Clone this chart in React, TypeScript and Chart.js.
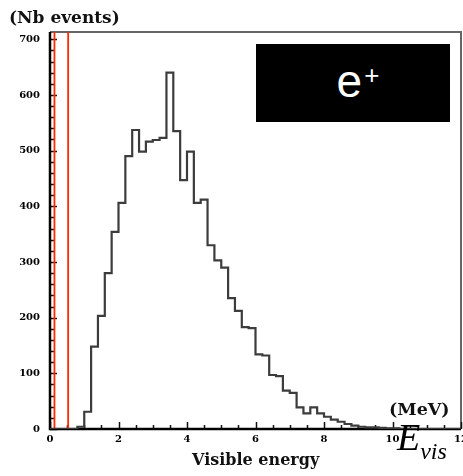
import React, { useEffect, useRef } from "react";
import { Chart, registerables } from "chart.js";

Chart.register(...registerables);

// Bin left edges (MeV), bin width 0.2
const binEdges = [
  0.0, 0.2, 0.4, 0.6, 0.8, 1.0, 1.2, 1.4, 1.6, 1.8,
  2.0, 2.2, 2.4, 2.6, 2.8, 3.0, 3.2, 3.4, 3.6, 3.8,
  4.0, 4.2, 4.4, 4.6, 4.8, 5.0, 5.2, 5.4, 5.6, 5.8,
  6.0, 6.2, 6.4, 6.6, 6.8, 7.0, 7.2, 7.4, 7.6, 7.8,
  8.0, 8.2, 8.4, 8.6, 8.8, 9.0, 9.2, 9.4, 9.6, 9.8,
  10.0, 10.2, 10.4, 10.6, 10.8, 11.0, 11.2, 11.4, 11.6, 11.8,
];
const lastEdge = 12;

// Nb events per bin
const eventCounts = [
  0, 0, 0, 0, 4, 31, 148, 203, 280, 354,
  406, 490, 537, 498, 516, 519, 523, 640, 535, 447,
  498, 406, 412, 330, 303, 290, 235, 212, 183, 181,
  134, 132, 97, 95, 69, 65, 39, 28, 39, 28,
  22, 17, 13, 9, 6, 4, 3, 3, 2, 1,
  1, 0, 0, 0, 0, 0, 0, 0, 0, 0,
];

const yTickValues = [0, 100, 200, 300, 400, 500, 600, 700];
const xTickValues = [0, 2, 4, 6, 8, 10, 12];
const cutLines = [0.13, 0.53];
const xRange = [0, 12];
const yRange = [0, 713];

const frameTicksPlugin = {
  id: "frameTicks",
  beforeDatasetsDraw(chart: any) {
    const { ctx, chartArea } = chart;
    const { left, right, top, bottom } = chartArea;
    const xs = chart.scales.x;
    const ys = chart.scales.y;
    ctx.save();
    // frame top/right
    ctx.strokeStyle = "#666";
    ctx.lineWidth = 2;
    ctx.beginPath();
    ctx.moveTo(left, top);
    ctx.lineTo(right, top);
    ctx.lineTo(right, bottom);
    ctx.stroke();
    // ticks
    ctx.strokeStyle = "#111";
    ctx.lineWidth = 1.5;
    ctx.beginPath();
    for (let v = 0; v <= yRange[1]; v += 20) {
      const y = Math.round(ys.getPixelForValue(v)) + 0.5;
      const len = v % 100 === 0 ? 7 : 4;
      ctx.moveTo(left, y);
      ctx.lineTo(left + len, y);
    }
    for (let v = 0; v <= xRange[1] + 1e-6; v += 0.5) {
      const x = Math.round(xs.getPixelForValue(v)) + 0.5;
      const len = Math.abs(v % 2) < 1e-6 ? 7 : 4;
      ctx.moveTo(x, bottom);
      ctx.lineTo(x, bottom - len);
    }
    ctx.stroke();
    // axes left/bottom
    ctx.strokeStyle = "#000";
    ctx.lineWidth = 2.5;
    ctx.beginPath();
    ctx.moveTo(left, top);
    ctx.lineTo(left, bottom);
    ctx.lineTo(right, bottom);
    ctx.stroke();
    ctx.restore();
  },
};

const tickFont = { family: "'DejaVu Serif', serif", size: 10, weight: "bold" as const };

export default function App() {
  const canvasRef = useRef<HTMLCanvasElement | null>(null);

  useEffect(() => {
    if (!canvasRef.current) return;
    const histPoints = binEdges.map((e, i) => ({ x: e, y: eventCounts[i] }));
    histPoints.push({ x: lastEdge, y: 0 });

    const cutDatasets = cutLines.map((c) => ({
      label: "cut " + c,
      data: [
        { x: c, y: yRange[0] },
        { x: c, y: yRange[1] },
      ],
      borderColor: "#ff2a00",
      borderWidth: 1.8,
      pointRadius: 0,
      fill: false,
    }));

    const chart = new Chart(canvasRef.current, {
      type: "line",
      data: {
        datasets: [
          {
            label: "e+",
            data: histPoints,
            stepped: "before",
            borderColor: "#3c3c3c",
            borderWidth: 2.2,
            pointRadius: 0,
            fill: false,
          } as any,
          ...cutDatasets,
        ],
      },
      options: {
        animation: false,
        responsive: false,
        devicePixelRatio: 1,
        layout: { padding: { top: 32, right: 2, left: 0, bottom: 0 } },
        plugins: {
          legend: { display: false },
          tooltip: { enabled: false },
          title: { display: false },
        },
        scales: {
          x: {
            type: "linear",
            min: xRange[0],
            max: xRange[1],
            grid: { display: false, drawTicks: false },
            border: { display: false },
            afterBuildTicks: (scale: any) => {
              scale.ticks = xTickValues.map((v) => ({ value: v }));
            },
            afterFit: (scale: any) => {
              scale.height = 47;
              scale.paddingLeft = 0;
              scale.paddingRight = 0;
            },
            ticks: {
              color: "#000",
              font: tickFont,
              padding: 4,
              maxRotation: 0,
              autoSkip: false,
            },
          },
          y: {
            type: "linear",
            min: yRange[0],
            max: yRange[1],
            grid: { display: false, drawTicks: false },
            border: { display: false },
            afterBuildTicks: (scale: any) => {
              scale.ticks = yTickValues.map((v) => ({ value: v }));
            },
            afterFit: (scale: any) => {
              scale.width = 50;
              scale.paddingTop = 0;
              scale.paddingBottom = 0;
            },
            ticks: {
              color: "#000",
              font: tickFont,
              padding: 10,
              autoSkip: false,
            },
          },
        },
      },
      plugins: [frameTicksPlugin],
    });
    return () => chart.destroy();
  }, []);

  const serifBold: React.CSSProperties = {
    position: "absolute",
    fontFamily: "'DejaVu Serif', serif",
    fontWeight: "bold",
    color: "#111",
    whiteSpace: "nowrap",
    lineHeight: 1,
  };

  return (
    <div
      style={{
        position: "fixed",
        left: 0,
        top: 0,
        width: 463,
        height: 476,
        background: "#fff",
        overflow: "hidden",
      }}
    >
      <canvas ref={canvasRef} width={463} height={476} style={{ position: "absolute", left: 0, top: 0 }} />
      <div style={{ ...serifBold, left: 9, top: 9, fontSize: 17 }}>(Nb events)</div>
      <div style={{ ...serifBold, left: 192, top: 452, fontSize: 16 }}>Visible energy</div>
      <div style={{ ...serifBold, left: 389, top: 401, fontSize: 17.5 }}>(MeV)</div>
      <div
        style={{
          position: "absolute",
          left: 256,
          top: 44,
          width: 194,
          height: 78,
          background: "#000",
          color: "#fff",
          fontFamily: "'Liberation Sans', Arial, sans-serif",
          display: "flex",
          alignItems: "center",
          justifyContent: "center",
        }}
      >
        <span style={{ fontSize: 46, lineHeight: 1, position: "relative", top: -2, left: 4 }}>
          e<sup style={{ fontSize: 26, verticalAlign: "top", position: "relative", top: 4, left: 2 }}>+</sup>
        </span>
      </div>
      <div
        style={{
          position: "absolute",
          left: 397,
          top: 418,
          fontSize: 38,
          fontFamily: "'Liberation Serif', 'Times New Roman', serif",
          fontStyle: "italic",
          color: "#000",
          whiteSpace: "nowrap",
          lineHeight: 1,
        }}
      >
        <span>E</span>
        <span style={{ fontSize: 24, position: "relative", top: 9 }}>vis</span>
      </div>
    </div>
  );
}
